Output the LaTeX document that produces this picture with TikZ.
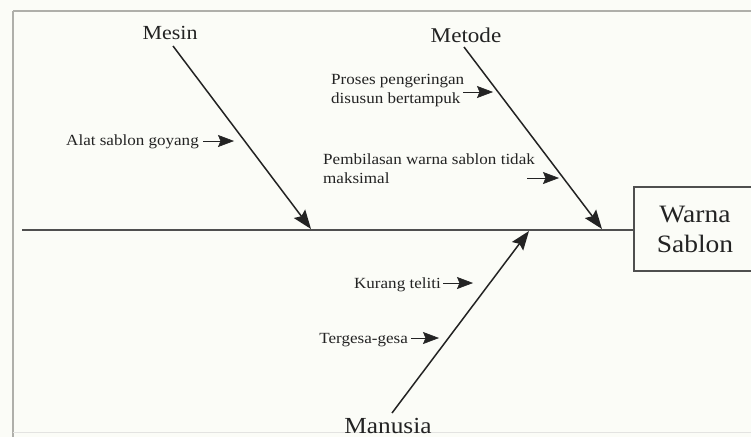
\documentclass[tikz,border=0pt]{standalone}
\usepackage{fontspec}
\setmainfont{Liberation Serif}[FakeStretch=1.1]
\usetikzlibrary{arrows.meta}
\definecolor{paper}{RGB}{251,252,247}
\definecolor{ink}{RGB}{35,35,35}
\definecolor{rule}{RGB}{175,175,170}
\tikzset{
  frameline/.style={draw=rule, line width=1.4pt},
  spine/.style={draw=ink!80, line width=2.4pt},
  bone/.style={draw=ink, line width=1.5pt, -{Stealth[length=19pt,width=14pt,inset=3pt]}},
  cause/.style={draw=ink, line width=0.6pt, -{Stealth[length=16pt,width=12pt,inset=2.5pt]}},
  catlabel/.style={text=ink, inner sep=0pt},
  causelabel/.style={text=ink, inner sep=0pt, font=\fontsize{15.5}{19}\selectfont, align=left},
  effectbox/.style={draw=ink!80, line width=1.2pt, text=ink, minimum width=122pt, minimum height=84pt,
    inner sep=0pt, align=center, font=\fontsize{25}{30}\selectfont}
}
\begin{document}
\begin{tikzpicture}[x=1pt,y=-1pt]
  % page and frame
  \fill[paper] (0,0) rectangle (751,437);
  \useasboundingbox (0,0) rectangle (751,437);
  \draw[frameline] (13,11) -- (751,11);
  \draw[frameline] (13,11) -- (13,437);
  \draw[draw=rule!35, line width=1pt] (13,432) -- (751,432);

  % effect box (runs past the right edge) and spine
  \node[effectbox] (effect) at (695,229) {Warna\\Sablon};
  \coordinate (tail) at (22,230);
  \draw[spine] (tail) -- (tail -| effect.west);

  % category labels
  \node[catlabel, font=\fontsize{20}{24}\selectfont, anchor=base] (mesin) at (170,39) {Mesin};
  \node[catlabel, font=\fontsize{21}{25}\selectfont, anchor=base] (metode) at (466,42) {Metode};
  \node[catlabel, font=\fontsize{23}{27}\selectfont, anchor=base] (manusia) at (388,433) {Manusia};

  % main bones
  \coordinate (mesinStart) at (173,46);
  \coordinate (mesinTip) at (311,229);
  \coordinate (metodeStart) at (464,47);
  \coordinate (metodeTip) at (602,229);
  \coordinate (manusiaStart) at (392,413);
  \coordinate (manusiaTip) at (529,231);
  \draw[bone] (mesinStart) -- (mesinTip);
  \draw[bone] (metodeStart) -- (metodeTip);
  \draw[bone] (manusiaStart) -- (manusiaTip);

  % causes (multi-line labels are placed by the baseline of their last line)
  \node[causelabel, anchor=base east] (alat) at (199,145) {Alat sablon goyang};
  \coordinate (alatTip) at (234,141);
  \draw[cause] (alat.east |- alatTip) ++(4,0) -- (alatTip);

  \node[causelabel, anchor=base west] (proses) at (331,103) {Proses pengeringan\\disusun bertampuk};
  \coordinate (prosesTip) at (493,92);
  \coordinate (prosesTail) at (463,92);
  \draw[cause] (prosesTail) -- (prosesTip);

  \node[causelabel, anchor=base west] (bilas) at (323,183) {Pembilasan warna sablon tidak\\maksimal};
  \coordinate (bilasTip) at (559,178);
  \coordinate (bilasTail) at (527,178);
  \draw[cause] (bilasTail) -- (bilasTip);

  \node[causelabel, anchor=base east] (teliti) at (441,288) {Kurang teliti};
  \coordinate (telitiTip) at (473,283);
  \draw[cause] (teliti.east |- telitiTip) ++(2,0) -- (telitiTip);

  \node[causelabel, anchor=base east] (gesa) at (408,343) {Tergesa-gesa};
  \coordinate (gesaTip) at (439,338);
  \draw[cause] (gesa.east |- gesaTip) ++(3,0) -- (gesaTip);
\end{tikzpicture}
\end{document}
